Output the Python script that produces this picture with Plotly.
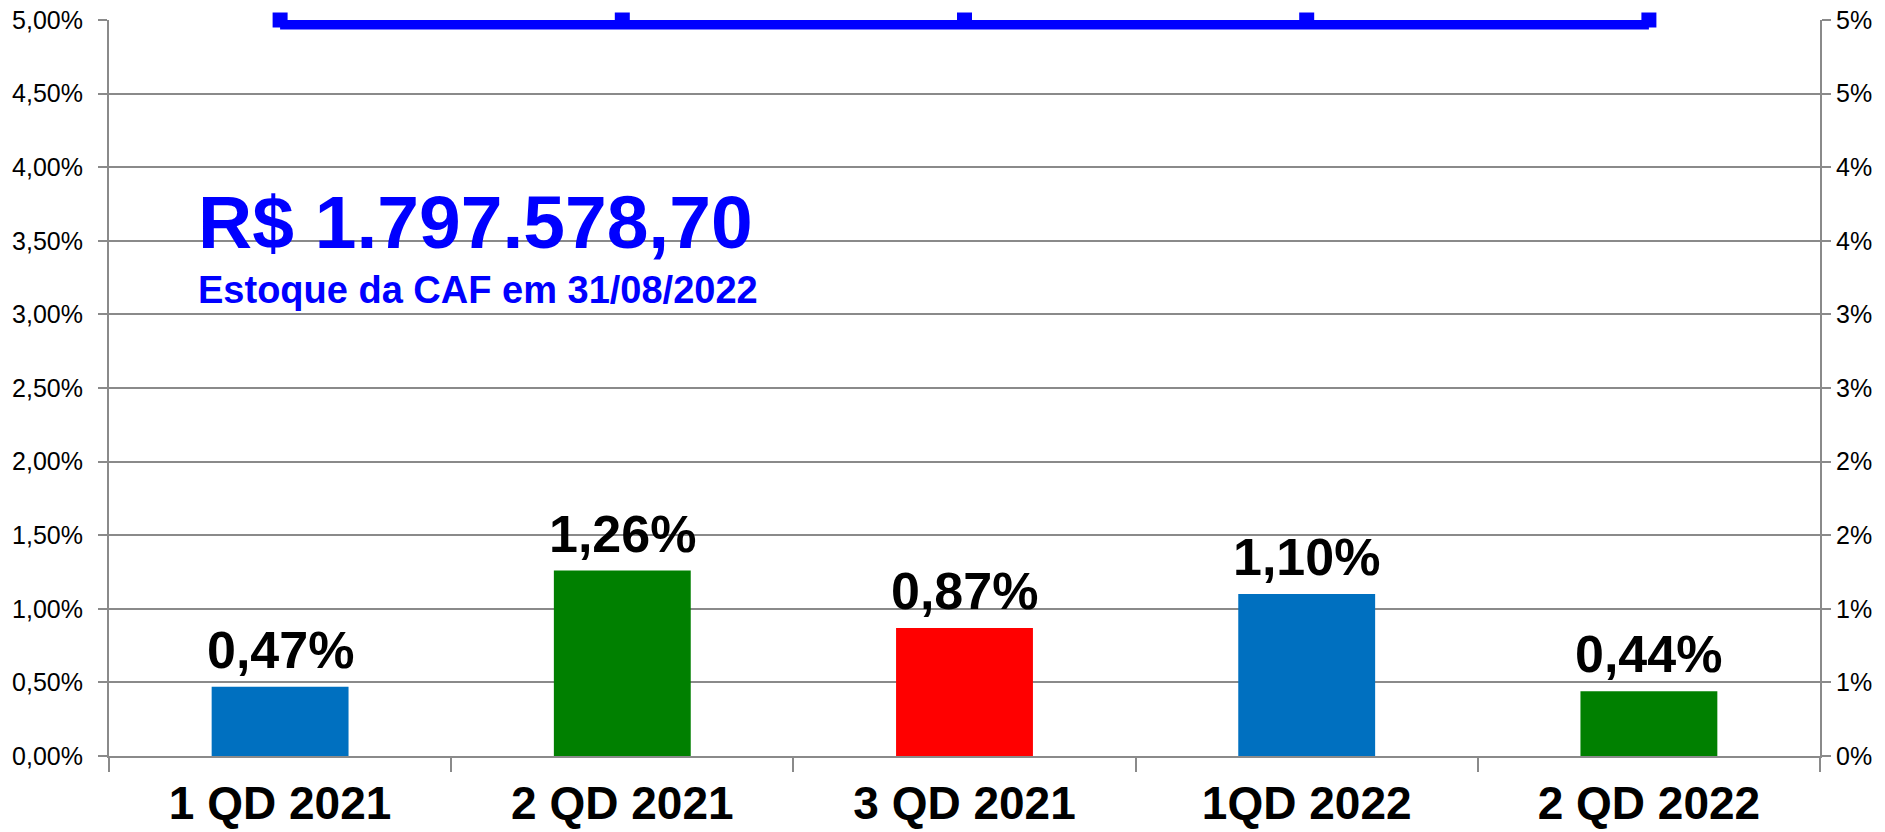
import plotly.graph_objects as go

categories = ["1 QD 2021", "2 QD 2021", "3 QD 2021", "1QD 2022", "2 QD 2022"]
bar_values = [0.0047, 0.0126, 0.0087, 0.0110, 0.0044]
bar_labels = ["0,47%", "1,26%", "0,87%", "1,10%", "0,44%"]
bar_colors = ["#0070C0", "#008000", "#FF0000", "#0070C0", "#008000"]
limit_values = [0.05, 0.05, 0.05, 0.05, 0.05]

left_tick_vals = [0.0, 0.005, 0.01, 0.015, 0.02, 0.025, 0.03, 0.035, 0.04, 0.045, 0.05]
left_tick_text = ["0,00%", "0,50%", "1,00%", "1,50%", "2,00%", "2,50%",
                  "3,00%", "3,50%", "4,00%", "4,50%", "5,00%"]
right_tick_text = ["0%", "1%", "1%", "2%", "2%", "3%", "3%", "4%", "4%", "5%", "5%"]

big_value_text = "R$ 1.797.578,70"
sub_text = "Estoque da CAF em 31/08/2022"

FONT = "Arial, 'Liberation Sans', sans-serif"
GRID = "#8a8a8a"

fig = go.Figure()
fig.add_trace(go.Bar(
    x=categories, y=bar_values, marker=dict(color=bar_colors, line=dict(width=0)),
    width=0.4, showlegend=False, hoverinfo="skip",
))
fig.add_trace(go.Scatter(
    x=categories, y=limit_values, yaxis="y2", mode="lines+markers",
    line=dict(color="#0000FF", width=19),
    marker=dict(symbol="square", size=15, color="#0000FF"),
    cliponaxis=False, showlegend=False, hoverinfo="skip",
))

for c, v, t in zip(categories, bar_values, bar_labels):
    fig.add_annotation(x=c, y=v, xref="x", yref="y", text=f"<b>{t}</b>",
                       showarrow=False, yanchor="bottom", yshift=6,
                       font=dict(family=FONT, size=52, color="#000000"))

fig.add_annotation(x=0.051, y=0.726, xref="paper", yref="paper", xanchor="left",
                   yanchor="middle", text=f"<b>{big_value_text}</b>", showarrow=False,
                   font=dict(family=FONT, size=75, color="#0000FF"))
fig.add_annotation(x=0.051, y=0.633, xref="paper", yref="paper", xanchor="left",
                   yanchor="middle", text=f"<b>{sub_text}</b>", showarrow=False,
                   font=dict(family=FONT, size=38, color="#0000FF"))

fig.update_layout(
    width=1885, height=832,
    margin=dict(l=109, r=65, t=20, b=76, autoexpand=False),
    plot_bgcolor="#FFFFFF", paper_bgcolor="#FFFFFF",
    bargap=0.6,
    xaxis=dict(
        automargin=False,
        tickson="boundaries", ticks="outside", ticklen=14, tickwidth=2, tickcolor=GRID,
        showline=True, linecolor=GRID, linewidth=2, showgrid=False,
        tickfont=dict(family=FONT, size=46, color="#000000"),
        tickvals=categories, ticktext=[f"<b>{c}</b>" for c in categories],
        ticklabelstandoff=6,
    ),
    yaxis=dict(
        automargin=False,
        range=[0, 0.05], tickvals=left_tick_vals, ticktext=left_tick_text,
        ticks="outside", ticklen=9, tickwidth=2, tickcolor=GRID,
        showline=True, linecolor=GRID, linewidth=2,
        showgrid=True, gridcolor=GRID, gridwidth=2, zeroline=False,
        tickfont=dict(family=FONT, size=25, color="#000000"),
        ticklabelstandoff=10,
    ),
    yaxis2=dict(
        automargin=False,
        range=[0, 0.05], overlaying="y", side="right",
        tickvals=left_tick_vals, ticktext=right_tick_text,
        ticks="outside", ticklen=9, tickwidth=2, tickcolor=GRID,
        showline=True, linecolor=GRID, linewidth=2, showgrid=False, zeroline=False,
        tickfont=dict(family=FONT, size=25, color="#000000"),
    ),
)

fig.write_html(
    "out.html",
    config={"displayModeBar": False},
    post_script="document.body.style.margin='0';document.body.style.overflow='hidden';",
)
